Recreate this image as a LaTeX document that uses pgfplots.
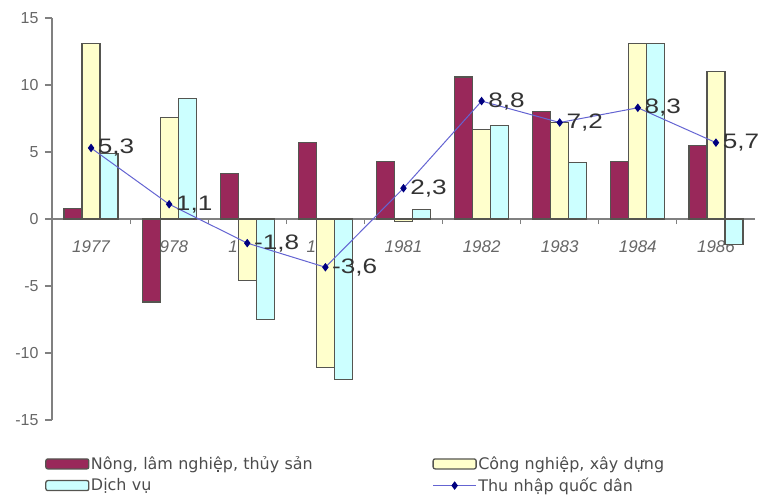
\documentclass[border=0pt]{standalone}
\usepackage{fontspec}
\setmainfont{Liberation Sans}
\newfontfamily\legendfont{DejaVu Sans}
\newfontfamily\lblfont[FakeStretch=1.25]{Liberation Sans}
\usepackage{pgfplots}
\usepackage{pgfplotstable}
\pgfplotsset{compat=1.18}

\definecolor{nong}{RGB}{153,40,90}
\definecolor{cong}{RGB}{255,255,204}
\definecolor{dich}{RGB}{204,255,255}
\definecolor{thu}{RGB}{100,100,210}
\definecolor{mk}{RGB}{0,0,128}
\definecolor{edge}{RGB}{85,85,80}

% growth rates (%), 1977-1986
\pgfplotstableread{
x  nong  cong  dich  thu  lbl
0   0.8  13.1   4.9  5.3  5,3
1  -6.2   7.6   9.0  1.1  1,1
2   3.4  -4.6  -7.5 -1.8  -1,8
3   5.7 -11.1 -12.0 -3.6  -3,6
4   4.3  -0.2   0.7  2.3  2,3
5  10.6   6.7   7.0  8.8  8,8
6   8.0   7.2   4.2  7.2  7,2
7   4.3  13.1  13.1  8.3  8,3
8   5.5  11.0  -1.9  5.7  5,7
}\data

\pgfplotsset{
  barleg/.style={legend image code/.code={%
    \draw[##1, rounded corners=2bp] (0bp,-5bp) rectangle (43bp,5bp);}},
  lineleg/.style={legend image code/.code={%
    \draw[mark repeat=2, mark phase=2, ##1] plot coordinates {(0bp,0bp) (21.5bp,0bp) (43bp,0bp)};}},
}

\begin{document}
\begin{tikzpicture}
\useasboundingbox (-52bp,-79bp) rectangle (711bp,420bp);
\begin{axis}[
  at={(0bp,0bp)}, anchor=south west,
  scale only axis, width=703bp, height=402bp,
  clip=false,
  xmin=-0.5, xmax=8.5, ymin=-15, ymax=15,
  axis y line*=left, axis x line*=middle,
  xtick={0,...,8},
  xticklabels={1977,1978,1979,1980,1981,1982,1983,1984,1986},
  minor xtick={0.5,1.5,...,7.5},
  ytick={-15,-10,...,15},
  /pgf/number format/assume math mode=true,
  tick align=outside,
  major tick length=7bp, minor tick length=5bp,
  major x tick style={draw=none},
  minor x tick style={draw=gray, line width=1bp},
  ytick style={draw=gray, line width=1.2bp},
  y axis line style={draw=gray, line width=1.8bp},
  x axis line style={draw=gray, line width=1.2bp},
  yticklabel style={font=\fontsize{16}{16}\selectfont, text=black!60, xshift=-3bp},
  xticklabel style={font=\itshape\fontsize{17}{17}\selectfont, text=black!60, yshift=-11bp},
  legend style={draw=none, fill=none, at={(axis description cs:0,0)}, anchor=north west,
    xshift=-7bp, yshift=-35bp, inner xsep=0pt, inner ysep=0pt, row sep=4bp,
    legend columns=2, font=\legendfont\fontsize{16}{18}\selectfont, text=black!70,
    nodes={inner sep=1.5bp, text width=330bp},
    /tikz/every even column/.append style={column sep=10bp}},
  legend cell align=left,
]
\addplot[ybar, bar width=18bp, bar shift=-18bp, fill=nong, draw=edge, line width=1.3bp, barleg]
  table[x=x, y=nong] {\data};
\addlegendentry{Nông, lâm nghiệp, thủy sản}
\addplot[ybar, bar width=18bp, bar shift=0bp, fill=cong, draw=edge, line width=1.3bp, barleg]
  table[x=x, y=cong] {\data};
\addlegendentry{Công nghiệp, xây dựng}
\addplot[ybar, bar width=18bp, bar shift=18bp, fill=dich, draw=edge, line width=1.3bp, barleg]
  table[x=x, y=dich] {\data};
\addlegendentry{Dịch vụ}
\addplot[color=thu, line width=1bp, mark=diamond*, mark size=3.5bp,
  mark options={fill=mk, draw=mk},
  nodes near coords, point meta=explicit symbolic,
  every node near coord/.append style={anchor=west, xshift=3bp,
    font=\lblfont\fontsize{21}{21}\selectfont, text=black!80},
  lineleg]
  table[x=x, y=thu, meta=lbl] {\data};
\addlegendentry{Thu nhập quốc dân}
\end{axis}
\end{tikzpicture}
\end{document}
